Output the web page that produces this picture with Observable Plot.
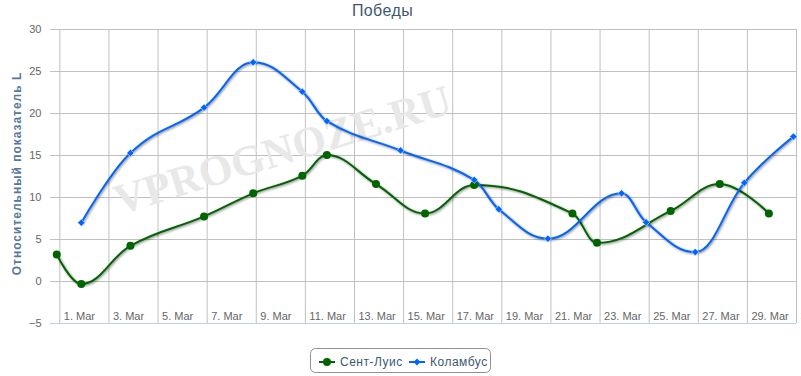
<!DOCTYPE html>
<html>
<head>
<meta charset="utf-8">
<script src="https://cdn.jsdelivr.net/npm/d3@7"></script>
<script src="https://cdn.jsdelivr.net/npm/@observablehq/plot@0.6"></script>
<style>
  html, body { margin: 0; padding: 0; background: #fff; }
  svg { display: block; }
</style>
</head>
<body>
<div id="chart"></div>
<script>
// ---- data ----
const chartTitle = "Победы";
const yAxisTitle = "Относительный показатель L";
const watermark = "VPROGNOZE.RU";
const seriesNames = ["Сент-Луис", "Коламбус"];
const seriesColors = ["#006400", "#0066ff"];

const stlDates = ["2014-02-28", "2014-03-01", "2014-03-03", "2014-03-06", "2014-03-08", "2014-03-10", "2014-03-11", "2014-03-13", "2014-03-15", "2014-03-17", "2014-03-21", "2014-03-22", "2014-03-25", "2014-03-27", "2014-03-29"];
const stlValues = [3.2, -0.3, 4.25, 7.75, 10.5, 12.6, 15.05, 11.6, 8.1, 11.5, 8.1, 4.6, 8.4, 11.6, 8.1];

const cbjDates = ["2014-03-01", "2014-03-03", "2014-03-06", "2014-03-08", "2014-03-10", "2014-03-11", "2014-03-14", "2014-03-17", "2014-03-18", "2014-03-20", "2014-03-23", "2014-03-24", "2014-03-26", "2014-03-28", "2014-03-30"];
const cbjValues = [7.0, 15.3, 20.7, 26.1, 22.6, 19.1, 15.6, 12.1, 8.6, 5.1, 10.5, 7.05, 3.5, 11.75, 17.25];

const xTickDates = ["2014-03-01", "2014-03-03", "2014-03-05", "2014-03-07", "2014-03-09", "2014-03-11", "2014-03-13", "2014-03-15", "2014-03-17", "2014-03-19", "2014-03-21", "2014-03-23", "2014-03-25", "2014-03-27", "2014-03-29", "2014-03-31"];
const xTickLabels = ["1. Mar", "3. Mar", "5. Mar", "7. Mar", "9. Mar", "11. Mar", "13. Mar", "15. Mar", "17. Mar", "19. Mar", "21. Mar", "23. Mar", "25. Mar", "27. Mar", "29. Mar", "31. Mar"];
const yTicks = [-5, 0, 5, 10, 15, 20, 25, 30];
const xDomain = ["2014-02-28T14:54:00Z", "2014-03-31T00:00:00Z"];
const yDomain = [-5, 30];

// ---- build tables ----
const gameTime = d => new Date(d + "T21:00:00Z");
const stl = stlDates.map((d, i) => ({date: gameTime(d), value: stlValues[i]}));
const cbj = cbjDates.map((d, i) => ({date: gameTime(d), value: cbjValues[i]}));
const tickDates = xTickDates.map(d => new Date(d + "T00:00:00Z"));
const tickLabelOf = new Map(tickDates.map((d, i) => [+d, xTickLabels[i]]));

// Highcharts-like spline curve
function HCSpline(context) { this._context = context; }
HCSpline.prototype = {
  areaStart() {}, areaEnd() {},
  lineStart() { this._pts = []; },
  point(x, y) { this._pts.push([+x, +y]); },
  lineEnd() {
    const p = this._pts, n = p.length, c = this._context;
    if (!n) return;
    const sm = 1.5, den = sm + 1;
    const rc = new Array(n);
    for (let i = 0; i < n; i++) {
      const [x, y] = p[i];
      let lx = x, ly = y;
      if (i > 0 && i < n - 1) {
        const [px, py] = p[i - 1], [nx, ny] = p[i + 1];
        let lcx = (sm * x + px) / den, lcy = (sm * y + py) / den;
        let rcx = (sm * x + nx) / den, rcy = (sm * y + ny) / den;
        let corr = 0;
        if (rcx !== lcx) corr = ((rcy - lcy) * (rcx - x)) / (rcx - lcx) + y - rcy;
        lcy += corr; rcy += corr;
        if (lcy > py && lcy > y) { lcy = Math.max(py, y); rcy = 2 * y - lcy; }
        else if (lcy < py && lcy < y) { lcy = Math.min(py, y); rcy = 2 * y - lcy; }
        if (rcy > ny && rcy > y) { rcy = Math.max(ny, y); lcy = 2 * y - rcy; }
        else if (rcy < ny && rcy < y) { rcy = Math.min(ny, y); lcy = 2 * y - rcy; }
        lx = lcx; ly = lcy; rc[i] = [rcx, rcy];
      }
      if (i === 0) c.moveTo(x, y);
      else {
        const a = rc[i - 1] || p[i - 1];
        c.bezierCurveTo(a[0], a[1], lx, ly, x, y);
      }
    }
  }
};
const hcSpline = context => new HCSpline(context);

const font = "'Liberation Sans', Arial, sans-serif";

function shadow(data) {
  return [[6, 0.05], [4, 0.1], [2, 0.15]].map(([w, o]) =>
    Plot.line(data, {x: "date", y: "value", curve: hcSpline, stroke: "#000", strokeOpacity: o, strokeWidth: w, dx: 1, dy: 1}));
}

const chart = Plot.plot({
  width: 801,
  height: 376,
  marginTop: 29,
  marginBottom: 53,
  marginLeft: 50,
  marginRight: 5,
  style: {fontFamily: font, fontSize: "11px", background: "#fff", overflow: "hidden"},
  x: {type: "utc", domain: xDomain.map(d => new Date(d))},
  y: {domain: yDomain},
  marks: [
    Plot.gridY(yTicks, {stroke: "#c0c0c0", strokeOpacity: 1}),
    Plot.gridX(tickDates, {stroke: "#c0c0c0", strokeOpacity: 1}),
    Plot.ruleY([yDomain[0]], {stroke: "#c0d0e0", strokeWidth: 1}),
    Plot.text([watermark], {
      frameAnchor: "top-left", dx: 232, dy: 121, text: d => d, rotate: -17,
      fontFamily: "'Liberation Serif', 'Times New Roman', serif", fontWeight: "bold",
      fontSize: 43, fill: "#e8e8e8", textAnchor: "middle", lineAnchor: "middle"
    }),
    Plot.axisY({ticks: yTicks, tickSize: 0, tickPadding: 9, label: null, fill: "#666", fontSize: 11}),
    Plot.axisX({ticks: tickDates, tickSize: 0, tickPadding: 0, label: null, tickFormat: d => tickLabelOf.get(+d),
      textAnchor: "start", lineAnchor: "middle", dx: 4, dy: -7, fill: "#666", fontSize: 11}),
    Plot.text([yAxisTitle], {
      frameAnchor: "left", dx: -33, dy: -3, text: d => d, rotate: -90,
      fill: "#56789a", fontWeight: "bold", fontSize: 12, textAnchor: "middle", lineAnchor: "middle"
    }),
    Plot.text([chartTitle], {
      frameAnchor: "top-left", dx: 332, dy: -19, text: d => d,
      fill: "#3e576f", fontSize: 16, textAnchor: "middle", lineAnchor: "middle"
    }),
    ...shadow(stl),
    Plot.line(stl, {x: "date", y: "value", curve: hcSpline, stroke: seriesColors[0], strokeWidth: 2}),
    ...shadow(cbj),
    Plot.line(cbj, {x: "date", y: "value", curve: hcSpline, stroke: seriesColors[1], strokeWidth: 2}),
    Plot.dot(stl, {x: "date", y: "value", r: 4, fill: seriesColors[0], symbol: "circle"}),
    Plot.dot(cbj, {x: "date", y: "value", r: 3.3, fill: seriesColors[1], symbol: "diamond2", stroke: "#fff", strokeWidth: 0.5})
  ]
});

const svg = d3.select(chart);
// letter-spaced axis title and title, like the original renderer
svg.selectAll("text").filter(function() { return this.textContent === yAxisTitle; }).attr("letter-spacing", "1px");
svg.selectAll("text").filter(function() { return this.textContent === chartTitle; }).attr("letter-spacing", "0.4px");

// ---- legend ----
const lg = svg.append("g").attr("font-family", font).attr("font-size", 12).attr("text-anchor", "start");
lg.append("rect").attr("x", 310.5).attr("y", 348.5).attr("width", 180).attr("height", 24).attr("rx", 5)
  .attr("fill", "#fff").attr("stroke", "#909090").attr("stroke-width", 1);
const items = [
  {name: seriesNames[0], color: seriesColors[0], x0: 319, sym: "circle"},
  {name: seriesNames[1], color: seriesColors[1], x0: 409, sym: "diamond"}
];
for (const it of items) {
  const cy = 362;
  lg.append("line").attr("x1", it.x0).attr("x2", it.x0 + 16).attr("y1", cy).attr("y2", cy)
    .attr("stroke", it.color).attr("stroke-width", 2);
  if (it.sym === "circle") {
    lg.append("circle").attr("cx", it.x0 + 8).attr("cy", cy).attr("r", 4).attr("fill", it.color);
  } else {
    const cx = it.x0 + 8, r = 3.5;
    lg.append("path").attr("d", `M${cx},${cy - r}L${cx + r},${cy}L${cx},${cy + r}L${cx - r},${cy}Z`).attr("fill", it.color);
  }
  lg.append("text").attr("x", it.x0 + 21).attr("y", cy).attr("dy", "0.35em")
    .attr("text-anchor", "start").attr("fill", "#3e576f").attr("letter-spacing", "0.5px").text(it.name);
}

document.getElementById("chart").appendChild(chart);
</script>
</body>
</html>
